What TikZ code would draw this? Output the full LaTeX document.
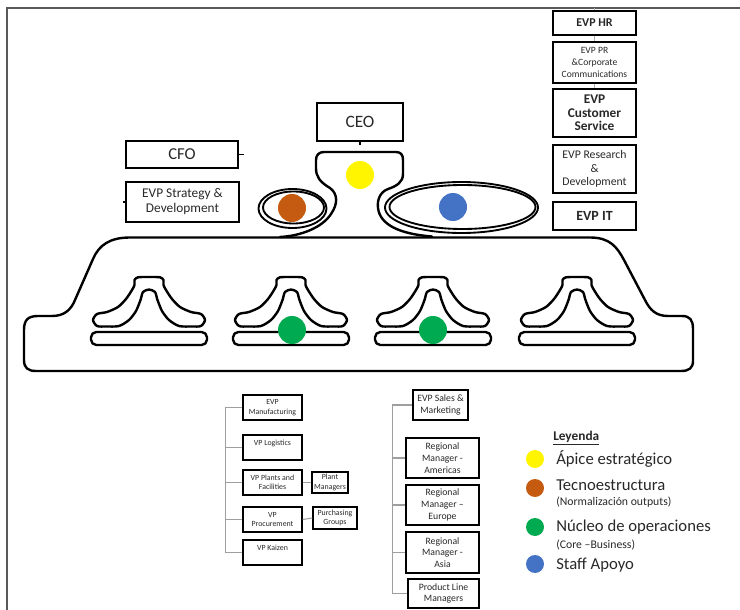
\documentclass[tikz,border=0pt]{standalone}
\usepackage{fontspec}
\setmainfont{Carlito}
\definecolor{yel}{RGB}{255,245,0}
\definecolor{brn}{RGB}{197,90,17}
\definecolor{grn}{RGB}{0,170,80}
\definecolor{blu}{RGB}{68,114,196}
\definecolor{txt}{RGB}{40,40,40}
\newcommand{\orgbox}[7][]{%
  \pgfmathsetmacro\orgbw{(#5-#3)*0.75}%
  \pgfmathsetmacro\orgbh{(#6-#4)*0.75}%
  \node[box,minimum width=\orgbw pt,minimum height=\orgbh pt,#1] (#2) at ({(#3+#5)/2},{(#4+#6)/2}) {#7};}
\newcommand{\oper}[1]{%
  \begin{scope}[shift={(#1,0)}]
    \draw[outline] plot[smooth cycle, tension=0.45] coordinates {
      (-30,326) (-43,326.5) (-52,326) (-56,320) (-52,314) (-42,312) (-31,307) (-23,299)
      (-17,290) (-14.5,285) (-14.5,280) (-11,277.3) (0,277) (11,277.3) (14.5,280) (14.5,285) (17,290)
      (23,299) (31,307) (42,312) (52,314) (56,320) (52,326) (43,326.5) (30,326)
      (20,320) (13,311) (8.5,300) (6,292) (0,289.5) (-6,292) (-8.5,300) (-13,311) (-20,320)};
    \draw[outline, rounded corners=4pt] (-58,332) rectangle (58,345);
  \end{scope}}
\begin{document}
\begin{tikzpicture}[x=0.75pt,y=-0.75pt,
  box/.style={draw=black, line width=1.4pt, inner sep=0.5pt, align=center, text=txt},
  obox/.style={line width=1.1pt, font=\fontsize{5.9}{7}\selectfont},
  rbox/.style={line width=1.3pt, font=\fontsize{7.3}{8.8}\selectfont},
  conn/.style={draw=gray!75, line width=0.8pt},
  tick/.style={draw=black, line width=0.8pt},
  ftick/.style={draw=gray!60, line width=0.6pt},
  outline/.style={draw=black, line width=1.8pt, line join=round, line cap=round},
  ell/.style={draw=black, line width=1.4pt},
  dot/.style={circle, inner sep=0pt, minimum size=21pt, draw=none},
  ldot/.style={circle, inner sep=0pt, minimum size=13.5pt, draw=none},
  legtext/.style={anchor=west, inner sep=0pt, text=txt, font=\fontsize{12.5}{14}\selectfont},
  legsub/.style={anchor=west, inner sep=0pt, text=txt, font=\fontsize{8.8}{10}\selectfont}]
\useasboundingbox (0,0) rectangle (740,610);
% frame
\draw[line width=1pt, black!65] (7,610) -- (7,8) -- (740,8);

% main body
\draw[outline] (130,237.5) -- (590,237.5)
  .. controls (610,237.5) and (617,247) .. (624,260) -- (645,300)
  .. controls (650,310) and (656,316) .. (668,316) -- (682,316)
  .. controls (690,316) and (693,320) .. (693,329) -- (693,361)
  .. controls (693,368) and (689,371) .. (681,371) -- (36,371)
  .. controls (28,371) and (24,368) .. (24,360) -- (24,330)
  .. controls (24,320) and (28,316) .. (38,316) -- (52,316)
  .. controls (64,316) and (71,310) .. (75,300) -- (93,259)
  .. controls (99,245) and (110,237.5) .. (130,237.5) -- cycle;

% operators
\oper{149}
\oper{291}
\oper{433}
\oper{577}

% apex blob
\draw[outline] (280,237) .. controls (300,236) and (322,228) .. (331,214)
  .. controls (338,204) and (338,194) .. (330,188)
  .. controls (320,182) and (316,177) .. (316,168) -- (316,160)
  .. controls (316,155) and (319,152) .. (324,152) -- (396,152)
  .. controls (401,152) and (403,155) .. (403,160) -- (403,174)
  .. controls (403,182) and (397,186) .. (388,189)
  .. controls (380,192) and (377,200) .. (378,208)
  .. controls (380,225) and (400,234) .. (432,236.5);

% technostructure and support ellipses
\draw[ell] (292.5,208.5) ellipse[x radius=34, y radius=19.5];
\draw[ell] (293.5,207.5) ellipse[x radius=30.5, y radius=16];
\draw[ell] (461.5,207.5) ellipse[x radius=76.5, y radius=25.5];
\draw[ell] (462.5,207) ellipse[x radius=73, y radius=22];

% coloured dots
\node[dot, fill=yel] (dapex) at (360,175) {};
\node[dot, fill=brn] (dtech) at (292,208) {};
\node[dot, fill=blu] (dstaff) at (453,207) {};
\node[dot, fill=grn] (dcore1) at (292,330) {};
\node[dot, fill=grn] (dcore2) at (433,330) {};

% top boxes
\orgbox[font=\fontsize{13}{15}\selectfont]{ceo}{317}{103}{403}{141}{CEO}
\orgbox[font=\fontsize{12.5}{14}\selectfont]{cfo}{126}{141}{238}{168}{CFO}
\orgbox[font=\fontsize{10}{11.25}\selectfont]{evpsd}{126}{182}{239}{222}{EVP Strategy \&\\Development}
\orgbox[font=\fontsize{9}{10}\selectfont\bfseries]{hr}{553}{11}{636}{35}{EVP HR}
\orgbox[font=\fontsize{7.2}{8.8}\selectfont]{pr}{553}{42}{636}{83}{EVP PR\\\&Corporate\\Communications}
\orgbox[font=\fontsize{10}{10.2}\selectfont\bfseries, line width=2.2pt]{cs}{553}{89}{636}{137}{EVP\\Customer\\Service}
\orgbox[font=\fontsize{8.8}{10}\selectfont]{rd}{553}{145}{636}{193}{EVP Research\\\&\\Development}
\orgbox[font=\fontsize{10.5}{12}\selectfont\bfseries]{it}{553}{202}{636}{230}{EVP IT}

% ticks
\draw[tick] (ceo.south) -- ++(0,3);
\draw[tick] (cfo.east) -- ++(5,0);
\draw[tick] (evpsd.west) -- ++(-2,0);
\coordinate (ftop) at (594.5,8);
\draw[ftick] (hr.north) -- (ftop);
\draw[ftick] (hr.south) -- (pr.north);
\draw[ftick] (pr.south) -- (cs.north);

% bottom left chart
\orgbox[obox]{mfg}{243}{395}{302}{420}{EVP\\Manufacturing}
\orgbox[obox]{log}{243}{435}{302}{460}{VP Logistics\\\mbox{}}
\orgbox[obox]{plants}{243}{470}{302}{495}{VP Plants and\\Facilities}
\orgbox[obox]{plantm}{312}{472}{348}{493}{Plant\\Managers}
\orgbox[obox]{proc}{243}{507}{302}{532}{VP\\Procurement}
\orgbox[obox]{purch}{313}{507}{357}{529}{Purchasing\\Groups}
\orgbox[obox]{kai}{243}{540}{302}{565}{VP Kaizen\\\mbox{}}
\draw[conn] (mfg.west) -- ++(-17,0) coordinate (tla) |- (kai.west);
\draw[conn] (log.west) -- (log.west -| tla);
\draw[conn] (plants.west) -- (plants.west -| tla);
\draw[conn] (proc.west) -- (proc.west -| tla);
\draw[conn] (plants.east) -- (plantm.west);
\draw[conn] (proc.east) -- (purch.west);

% bottom right chart
\orgbox[rbox]{sales}{413}{390}{468}{420}{EVP Sales \&\\Marketing}
\orgbox[rbox]{ram}{406}{438}{479}{478}{Regional\\Manager -\\Americas}
\orgbox[rbox]{rem}{406}{485}{479}{525}{Regional\\Manager –\\Europe}
\orgbox[rbox]{ras}{406}{532}{479}{573}{Regional\\Manager -\\Asia}
\orgbox[rbox]{plm}{408}{579}{479}{608}{Product Line\\Managers}
\draw[conn] (sales.west) -- ++(-20,0) coordinate (tra) |- (plm.west);
\draw[conn] (ram.west) -- (ram.west -| tra);
\draw[conn] (rem.west) -- (rem.west -| tra);
\draw[conn] (ras.west) -- (ras.west -| tra);

% legend
\node[anchor=west, inner sep=0pt, text=txt, font=\fontsize{10}{12}\selectfont\bfseries] (leg) at (553,438) {\underline{Leyenda}};
\node[ldot, fill=yel] (l1) at (535,459) {};
\node[ldot, fill=brn] (l2) at (535,488) {};
\node[ldot, fill=grn] (l3) at (535,527) {};
\node[ldot, fill=blu] (l4) at (535,564) {};
\node[legtext] (t1) at (556,459) {Ápice estratégico};
\node[legtext] (t2) at (556,485) {Tecnoestructura};
\node[legsub] (s2) at (556,502) {(Normalización outputs)};
\node[legtext] (t3) at (556,527) {Núcleo de operaciones};
\node[legsub] (s3) at (556,545) {(Core –Business)};
\node[legtext] (t4) at (556,565) {Staff Apoyo};
\end{tikzpicture}
\end{document}
